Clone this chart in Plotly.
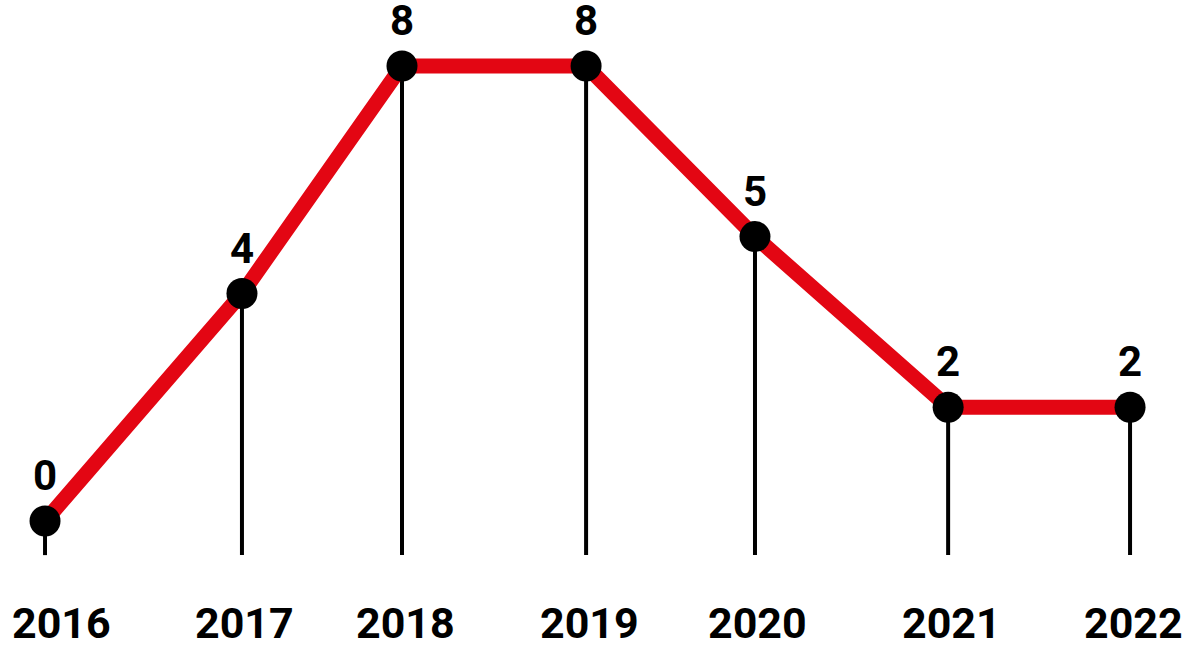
import plotly.graph_objects as go

# Data
years = ["2016", "2017", "2018", "2019", "2020", "2021", "2022"]
# approximate position of each observation along the time axis (fractional years)
x_time = [2016.0, 2017.089, 2017.974, 2018.992, 2019.926, 2020.994, 2022.0]
values = [0, 4, 8, 8, 5, 2, 2]

floor_val = -0.6  # where the drop lines end

fig = go.Figure()

# Drop lines (as error bars down to floor)
fig.add_trace(go.Scatter(
    x=x_time, y=values, mode="markers",
    marker=dict(size=1, color="rgba(0,0,0,0)"),
    error_y=dict(type="data", symmetric=False,
                 array=[0] * len(values),
                 arrayminus=[v - floor_val for v in values],
                 width=0, thickness=4, color="black"),
    hoverinfo="skip", showlegend=False, cliponaxis=False,
))

# Red line
fig.add_trace(go.Scatter(
    x=x_time, y=values, mode="lines",
    line=dict(color="#e30613", width=15),
    showlegend=False, cliponaxis=False,
))

# Markers + labels
fig.add_trace(go.Scatter(
    x=x_time, y=values, mode="markers+text",
    marker=dict(size=31, color="black"),
    text=[str(v) for v in values], textposition="top center",
    textfont=dict(family="Roboto", size=42, color="black", weight="bold"),
    showlegend=False, cliponaxis=False,
))

# Year labels under the axis
for i, (xv, lab) in enumerate(zip(x_time, years)):
    first = i == 0
    fig.add_annotation(
        x=xv, xref="x", y=0, yref="paper",
        text=lab, showarrow=False,
        xanchor="left" if first else "center", yanchor="middle",
        xshift=-35 if first else 3, yshift=-63,
        font=dict(family="Roboto", size=43, color="black", weight="bold"),
    )

fig.update_layout(
    width=1189, height=649,
    margin=dict(l=0, r=0, t=0, b=89, autoexpand=False),
    paper_bgcolor="white", plot_bgcolor="white",
    xaxis=dict(range=[2015.751, 2022.326], showticklabels=False,
               showgrid=False, zeroline=False, showline=False, ticks="",
               automargin=False),
    yaxis=dict(range=[-0.686, 9.160], visible=False, showgrid=False,
               zeroline=False, automargin=False),
)

fig.write_html("out.html", config={"displayModeBar": False},
               post_script="document.body.style.margin='0';document.body.style.overflow='hidden';")
